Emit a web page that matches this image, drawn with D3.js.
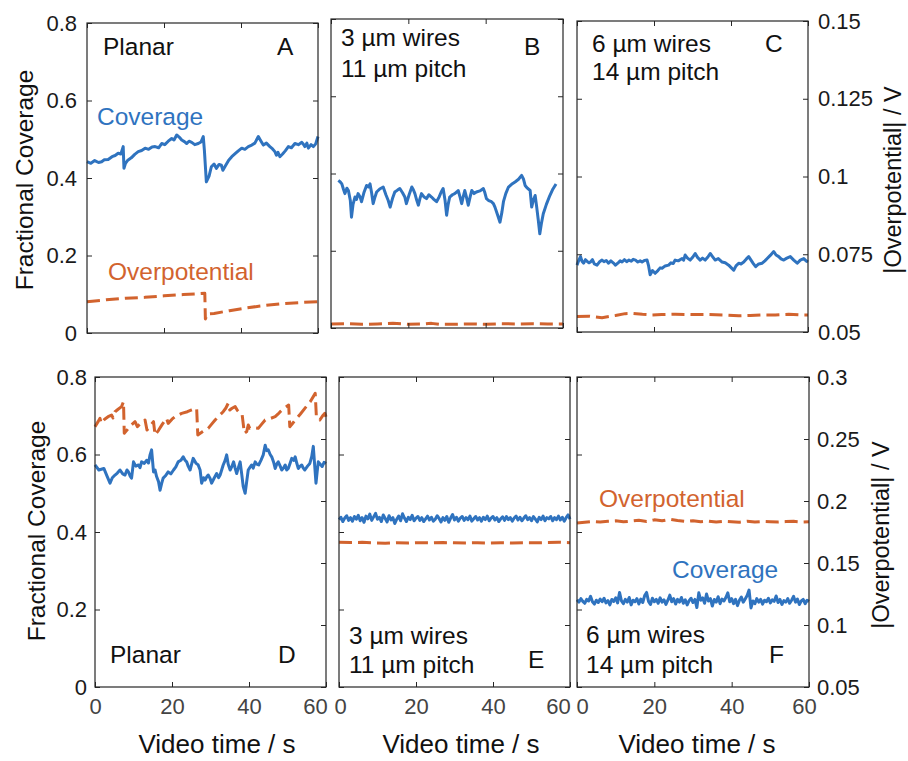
<!DOCTYPE html>
<html><head><meta charset="utf-8">
<script src="https://cdn.jsdelivr.net/npm/d3@7"></script>
<style>body{margin:0;background:#fff}svg{display:block}</style>
</head><body><svg id="c" width="908" height="761"></svg>
<script>
// ---------------- data ----------------
const timeTicks = [0, 20, 40, 60];
const coverageTicks = [0, 0.2, 0.4, 0.6, 0.8];
const overTicksTop = [0.05, 0.075, 0.1, 0.125, 0.15];
const overTicksBottom = [0.05, 0.1, 0.15, 0.2, 0.25, 0.3];

const covA = [[0,0.442],[1,0.438],[2,0.445],[3,0.440],[3.8,0.442],[4.5,0.447],[5.5,0.448],[6.5,0.455],[7.3,0.458],[8.1,0.464],[8.8,0.462],[9.4,0.481],[9.6,0.425],[10,0.438],[10.6,0.446],[11.5,0.452],[12.4,0.461],[13.3,0.468],[14.2,0.471],[15.1,0.477],[16,0.474],[16.9,0.480],[17.7,0.481],[18.6,0.478],[19.4,0.489],[20.2,0.486],[21.1,0.495],[22,0.502],[22.6,0.498],[23.3,0.511],[24,0.505],[24.6,0.498],[25.3,0.494],[25.9,0.489],[26.5,0.495],[27.2,0.492],[28,0.486],[28.9,0.489],[29.6,0.493],[30.2,0.507],[30.5,0.470],[31,0.390],[31.7,0.405],[32.3,0.429],[33,0.436],[33.6,0.425],[34.3,0.435],[34.9,0.433],[35.3,0.420],[36,0.432],[36.8,0.446],[37.6,0.455],[38.4,0.462],[39.3,0.470],[40.2,0.477],[41,0.474],[41.9,0.481],[42.8,0.485],[43.6,0.490],[44.5,0.507],[45.2,0.495],[45.8,0.485],[46.6,0.490],[47.5,0.481],[48.2,0.475],[48.8,0.468],[49.2,0.459],[49.6,0.466],[50.1,0.455],[50.8,0.462],[51.5,0.470],[52.3,0.481],[53.1,0.478],[54,0.489],[54.9,0.486],[55.8,0.492],[56.2,0.487],[56.6,0.481],[57.1,0.490],[57.5,0.477],[58.2,0.486],[58.8,0.481],[59.4,0.488],[60,0.507]];
const ovA = [[0,0.0601],[5,0.0607],[10,0.0612],[15,0.0615],[20,0.0620],[25,0.0624],[30.6,0.0628],[30.75,0.0545],[31.3,0.0562],[33,0.0563],[37,0.0572],[41,0.0580],[45,0.0587],[50,0.0594],[55,0.0598],[60,0.0601]];

const covB = [[1.9,0.382],[2.4,0.378],[2.8,0.373],[3.2,0.360],[3.6,0.348],[4.1,0.362],[4.5,0.356],[5.0,0.330],[5.3,0.287],[5.7,0.320],[6.2,0.339],[6.6,0.333],[7.0,0.348],[7.5,0.340],[7.9,0.327],[8.5,0.350],[9.2,0.369],[9.7,0.365],[10.1,0.373],[10.5,0.350],[10.9,0.322],[11.4,0.340],[11.8,0.352],[12.6,0.360],[13.5,0.365],[14.2,0.345],[14.8,0.330],[15.3,0.313],[15.9,0.335],[16.5,0.352],[17.2,0.357],[17.8,0.361],[18.5,0.350],[19.1,0.339],[19.5,0.322],[20.2,0.345],[20.9,0.365],[21.3,0.358],[21.7,0.348],[22.2,0.330],[22.6,0.318],[23.0,0.335],[23.4,0.348],[24.0,0.340],[24.7,0.335],[25.3,0.345],[26.0,0.339],[26.6,0.333],[27.3,0.327],[28.0,0.340],[28.5,0.352],[29.0,0.361],[29.5,0.330],[29.9,0.292],[30.3,0.320],[30.7,0.339],[31.4,0.345],[32.0,0.348],[32.5,0.352],[32.9,0.356],[33.4,0.338],[33.8,0.322],[34.2,0.340],[34.6,0.356],[35.0,0.340],[35.5,0.318],[36.0,0.340],[36.4,0.356],[37.0,0.348],[37.6,0.352],[38.5,0.355],[39.4,0.361],[39.8,0.350],[40.2,0.335],[40.8,0.330],[41.5,0.327],[42.0,0.322],[42.4,0.313],[43.0,0.295],[43.7,0.274],[44.2,0.300],[44.6,0.327],[45.2,0.348],[45.9,0.365],[46.7,0.372],[47.6,0.378],[48.5,0.385],[49.3,0.395],[49.8,0.385],[50.2,0.369],[50.8,0.362],[51.5,0.356],[51.9,0.313],[52.3,0.330],[52.8,0.343],[53.2,0.313],[53.6,0.280],[54.0,0.244],[54.4,0.270],[54.9,0.296],[55.7,0.320],[56.6,0.343],[57.4,0.360],[58.2,0.373]];
const ovB = [[0,0.0513],[4,0.0514],[8,0.0512],[12,0.0513],[16,0.0515],[20,0.0512],[24,0.0513],[26,0.0515],[28,0.0512],[32,0.0512],[36,0.0513],[40,0.0512],[44,0.0514],[48,0.0513],[52,0.0514],[56,0.0513],[60,0.0513]];

const covC = [[0,0.172],[0.5,0.185],[0.9,0.194],[1.3,0.182],[1.7,0.177],[2.2,0.186],[2.7,0.181],[3.1,0.178],[3.5,0.180],[4.0,0.186],[4.5,0.175],[5.2,0.172],[5.8,0.180],[6.5,0.185],[7.0,0.181],[7.6,0.184],[8.2,0.177],[8.8,0.183],[9.4,0.178],[10.0,0.172],[10.6,0.177],[11.2,0.183],[11.7,0.180],[12.3,0.186],[12.9,0.181],[13.5,0.185],[14.1,0.182],[14.6,0.187],[15.2,0.185],[15.8,0.180],[16.4,0.183],[16.9,0.180],[17.5,0.184],[18.2,0.185],[18.6,0.170],[19.0,0.147],[19.6,0.158],[20.3,0.151],[21.0,0.158],[21.6,0.165],[22.1,0.164],[22.9,0.170],[23.8,0.172],[24.4,0.178],[25.0,0.176],[25.5,0.185],[26.3,0.183],[27.3,0.189],[27.7,0.185],[28.1,0.198],[28.7,0.190],[29.4,0.185],[30.1,0.193],[30.7,0.202],[31.3,0.192],[32.0,0.185],[32.6,0.190],[33.3,0.185],[34.0,0.193],[34.6,0.202],[35.2,0.194],[35.9,0.185],[36.7,0.189],[37.7,0.180],[38.5,0.178],[39.4,0.172],[40.1,0.165],[40.7,0.159],[41.3,0.170],[42.0,0.177],[42.6,0.175],[43.3,0.180],[44.0,0.188],[44.6,0.194],[45.2,0.185],[45.8,0.176],[46.4,0.168],[47.2,0.175],[48.1,0.177],[48.8,0.183],[49.4,0.189],[50.2,0.197],[51.1,0.207],[51.7,0.198],[52.4,0.194],[53.0,0.188],[53.7,0.185],[54.5,0.190],[55.4,0.194],[56.3,0.185],[57.2,0.177],[58.0,0.185],[58.9,0.189],[59.5,0.183],[60,0.180]];
const ovC = [[0,0.0550],[3,0.0551],[6.5,0.0546],[10,0.0553],[12.5,0.0559],[14.3,0.0560],[17,0.0557],[19.5,0.0555],[22,0.0556],[25.5,0.0557],[30,0.0556],[34,0.0556],[38,0.0555],[42,0.0552],[45,0.0553],[48,0.0555],[51.5,0.0555],[55,0.0557],[58,0.0555],[60,0.0555]];

const covD = [[0,0.573],[1.0,0.560],[2.3,0.564],[3.1,0.545],[3.9,0.526],[4.5,0.540],[5.2,0.547],[5.8,0.552],[6.5,0.560],[7.2,0.550],[7.8,0.547],[8.3,0.560],[8.7,0.555],[9.1,0.545],[9.5,0.539],[10.0,0.581],[10.6,0.570],[11.3,0.573],[11.7,0.566],[12.1,0.581],[12.8,0.577],[13.4,0.585],[13.9,0.578],[14.3,0.599],[14.7,0.612],[15.2,0.555],[15.6,0.560],[16.0,0.543],[16.5,0.530],[16.9,0.508],[17.3,0.525],[17.7,0.539],[18.3,0.545],[19.0,0.555],[19.7,0.550],[20.4,0.560],[21.0,0.568],[21.6,0.581],[22.3,0.585],[22.9,0.594],[23.4,0.585],[23.8,0.581],[24.2,0.570],[24.7,0.560],[25.1,0.575],[25.5,0.590],[26.2,0.578],[26.8,0.573],[27.3,0.560],[27.7,0.526],[28.2,0.540],[28.6,0.534],[29.0,0.542],[29.4,0.547],[29.9,0.538],[30.3,0.526],[31.0,0.540],[31.6,0.551],[32.1,0.540],[32.5,0.547],[32.9,0.560],[33.3,0.573],[33.8,0.585],[34.2,0.599],[34.6,0.575],[35.1,0.560],[35.6,0.570],[36.0,0.581],[36.4,0.565],[36.8,0.551],[37.3,0.568],[37.7,0.581],[38.1,0.550],[38.5,0.517],[39.0,0.500],[39.4,0.530],[39.8,0.560],[40.2,0.566],[40.7,0.573],[41.1,0.565],[41.6,0.581],[42.0,0.575],[42.5,0.573],[43.1,0.585],[43.7,0.599],[44.2,0.624],[44.6,0.610],[45.0,0.612],[45.5,0.600],[45.9,0.594],[46.4,0.580],[46.8,0.564],[47.2,0.575],[47.6,0.581],[48.1,0.570],[48.5,0.560],[49.0,0.566],[49.4,0.573],[49.8,0.560],[50.2,0.564],[50.7,0.578],[51.1,0.590],[51.6,0.585],[52.0,0.594],[52.4,0.578],[52.8,0.564],[53.3,0.570],[53.7,0.573],[54.1,0.565],[54.5,0.560],[55.2,0.570],[55.8,0.577],[56.3,0.595],[56.7,0.621],[57.0,0.580],[57.4,0.526],[57.7,0.555],[58.0,0.581],[58.5,0.575],[59.0,0.569],[59.5,0.580],[60,0.577]];
const ovD = [[0,0.2599],[0.8,0.2640],[1.3,0.2667],[1.6,0.2626],[2.5,0.2660],[3.4,0.2680],[4.3,0.2693],[4.7,0.2670],[5.2,0.2720],[6.0,0.2740],[6.9,0.2761],[7.4,0.2801],[7.6,0.2546],[8.7,0.2586],[9.5,0.2615],[10.4,0.2640],[11.0,0.2600],[12.0,0.2630],[13.0,0.2653],[13.5,0.2572],[14.2,0.2600],[15.2,0.2640],[15.6,0.2532],[16.5,0.2570],[17.5,0.2620],[18.6,0.2667],[19.0,0.2626],[20.0,0.2660],[20.8,0.2680],[22.5,0.2707],[24.0,0.2720],[25.1,0.2734],[26.4,0.2747],[26.7,0.2532],[28.0,0.2560],[29.4,0.2586],[30.3,0.2620],[31.2,0.2653],[32.3,0.2690],[33.3,0.2720],[34.0,0.2750],[34.6,0.2788],[35.0,0.2734],[35.6,0.2748],[36.4,0.2761],[37.0,0.2730],[37.7,0.2707],[38.2,0.2700],[38.8,0.2546],[39.4,0.2560],[39.8,0.2613],[40.2,0.2586],[41.3,0.2590],[42.4,0.2586],[43.3,0.2620],[44.2,0.2653],[45.5,0.2665],[46.8,0.2680],[47.5,0.2700],[48.1,0.2720],[49.2,0.2750],[50.3,0.2774],[50.6,0.2599],[51.3,0.2625],[52.0,0.2653],[53.3,0.2700],[54.5,0.2747],[55.9,0.2800],[57.2,0.2868],[57.5,0.2680],[58.4,0.2653],[59.2,0.2690],[59.7,0.2707],[60,0.2680]];

// panels E and F: coverage sampled every 0.5 s
const sampleTimes = d3.range(121).map(i => i * 0.5);
const covEValues = [0.432,0.438,0.427,0.436,0.442,0.430,0.437,0.428,0.440,0.433,
0.443,0.429,0.437,0.425,0.441,0.434,0.446,0.430,0.439,0.448,
0.433,0.438,0.427,0.444,0.435,0.426,0.442,0.431,0.437,0.422,
0.433,0.441,0.429,0.447,0.436,0.427,0.438,0.432,0.443,0.429,
0.436,0.440,0.430,0.437,0.427,0.434,0.441,0.431,0.438,0.428,
0.433,0.442,0.435,0.426,0.437,0.430,0.440,0.425,0.436,0.445,
0.431,0.438,0.428,0.436,0.440,0.430,0.437,0.432,0.441,0.428,
0.434,0.440,0.431,0.437,0.428,0.438,0.432,0.441,0.429,0.436,
0.440,0.431,0.437,0.427,0.434,0.439,0.430,0.440,0.432,0.437,
0.428,0.436,0.441,0.431,0.438,0.429,0.436,0.442,0.432,0.437,
0.429,0.440,0.433,0.426,0.438,0.432,0.441,0.429,0.437,0.434,
0.440,0.429,0.437,0.432,0.441,0.431,0.438,0.428,0.437,0.444,
0.433];
const ovE = [[0,0.1668],[3,0.1665],[6,0.1667],[9,0.1662],[12,0.1660],[15,0.1663],[18,0.1661],[21,0.1664],[24,0.1662],[27,0.1665],[30,0.1663],[33,0.1662],[36,0.1664],[39,0.1661],[42,0.1663],[45,0.1662],[48,0.1664],[51,0.1663],[54,0.1665],[57,0.1667],[60,0.1664]];

const covFValues = [0.225,0.219,0.228,0.221,0.216,0.226,0.222,0.234,0.220,0.214,
0.224,0.218,0.227,0.220,0.229,0.217,0.223,0.212,0.226,0.221,
0.230,0.217,0.244,0.222,0.215,0.226,0.219,0.231,0.212,0.224,
0.220,0.228,0.214,0.227,0.218,0.236,0.244,0.221,0.213,0.229,
0.220,0.226,0.216,0.230,0.219,0.225,0.213,0.224,0.237,0.220,
0.228,0.214,0.226,0.219,0.231,0.216,0.225,0.212,0.223,0.229,
0.218,0.226,0.205,0.243,0.224,0.230,0.216,0.240,0.222,0.228,
0.209,0.226,0.219,0.233,0.215,0.227,0.222,0.231,0.243,0.220,
0.228,0.215,0.226,0.210,0.224,0.232,0.219,0.227,0.236,0.250,
0.204,0.222,0.215,0.228,0.219,0.226,0.214,0.224,0.220,0.229,
0.217,0.225,0.221,0.235,0.218,0.226,0.213,0.223,0.219,0.228,
0.216,0.224,0.234,0.219,0.227,0.213,0.222,0.226,0.215,0.224,
0.221];
const ovF = [[0,0.1822],[2,0.1828],[4,0.1834],[6,0.1831],[8,0.1836],[10,0.1840],[12,0.1832],[14,0.1838],[16,0.1845],[18,0.1835],[20,0.1848],[22,0.1840],[24,0.1852],[26,0.1842],[28,0.1835],[30,0.1841],[32,0.1832],[34,0.1838],[36,0.1830],[38,0.1836],[40,0.1833],[42,0.1829],[44,0.1837],[46,0.1831],[48,0.1835],[50,0.1833],[52,0.1830],[54,0.1834],[56,0.1836],[58,0.1831],[60,0.1833]];

const covE = sampleTimes.map((t, i) => [t, covEValues[i]]);
const covF = sampleTimes.map((t, i) => [t, covFValues[i]]);

// ---------------- layout ----------------
const BLUE = "#2f73bf", ORANGE = "#d2632e", AX = "#262626";
const FONT = "'Liberation Sans', Arial, Helvetica, sans-serif";

const panels = [
  {box:[87,318,23,333], over:[0.05,0.15], oTicks:overTicksTop, cov:covA, ov:ovA, leftLab:10, rightLab:null, xLab:false},
  {box:[331,563,19,328], over:[0.05,0.15], oTicks:overTicksTop, cov:covB, ov:ovB, leftLab:null, rightLab:null, xLab:false},
  {box:[577,808,21,332], over:[0.05,0.15], oTicks:overTicksTop, cov:covC, ov:ovC, leftLab:null, rightLab:10, xLab:false},
  {box:[95,326,377,687], over:[0.05,0.3], oTicks:overTicksBottom, cov:covD, ov:ovD, leftLab:8, rightLab:null, xLab:true, shift0:0, shift60:-11},
  {box:[339,570,377,687], over:[0.05,0.3], oTicks:overTicksBottom, cov:covE, ov:ovE, leftLab:null, rightLab:null, xLab:true, shift0:1, shift60:-12},
  {box:[577,809,377,687], over:[0.05,0.3], oTicks:overTicksBottom, cov:covF, ov:ovF, leftLab:null, rightLab:8, xLab:true, shift0:5, shift60:-5}
];

const svg = d3.select("#c");
svg.append("rect").attr("width",908).attr("height",761).attr("fill","#fff");

function fmt(d){ return String(d); }

panels.forEach(p => {
  const [x0,x1,y0,y1] = p.box;
  const x = d3.scaleLinear().domain([0,60]).range([x0,x1]);
  const yL = d3.scaleLinear().domain([0,0.8]).range([y1,y0]);
  const yR = d3.scaleLinear().domain(p.over).range([y1,y0]);
  const g = svg.append("g");

  const lc = d3.line().x(d => x(d[0])).y(d => yL(d[1]));
  const lo = d3.line().x(d => x(d[0])).y(d => yR(d[1]));
  g.append("path").datum(p.ov).attr("d", lo).attr("fill","none")
    .attr("stroke",ORANGE).attr("stroke-width",3).attr("stroke-dasharray","13,6")
    .attr("stroke-linejoin","round");
  g.append("path").datum(p.cov).attr("d", lc).attr("fill","none")
    .attr("stroke",BLUE).attr("stroke-width",3).attr("stroke-linejoin","round");

  const axL = d3.axisLeft(yL).tickValues(coverageTicks).tickSize(-5)
    .tickPadding(p.leftLab || 0).tickFormat(p.leftLab ? fmt : () => "");
  const axR = d3.axisRight(yR).tickValues(p.oTicks).tickSize(-5)
    .tickPadding(p.rightLab || 0).tickFormat(p.rightLab ? fmt : () => "");
  const axB = d3.axisBottom(x).tickValues(timeTicks).tickSize(-5)
    .tickPadding(11).tickFormat(p.xLab ? fmt : () => "");
  const axT = d3.axisTop(x).tickValues(timeTicks).tickSize(-5).tickFormat(() => "");

  [[axL,`translate(${x0},0)`],[axR,`translate(${x1},0)`],
   [axB,`translate(0,${y1})`],[axT,`translate(0,${y0})`]].forEach(([ax,tr],k) => {
    const a = g.append("g").attr("transform",tr).call(ax);
    a.select(".domain").remove();
    a.selectAll("line").attr("stroke",AX).attr("stroke-width",1);
    a.selectAll("text").attr("font-family",FONT).attr("font-size",22)
      .attr("fill", k === 2 ? "#444" : "#1a1a1a");
    if (k === 2 && p.xLab) {
      a.selectAll("text").attr("dx", d => d === 60 ? p.shift60 : (d === 0 ? p.shift0 : 0));
    }
  });
  g.append("rect").attr("x",x0).attr("y",y0).attr("width",x1-x0).attr("height",y1-y0)
    .attr("fill","none").attr("stroke",AX).attr("stroke-width",1.2);
});

function txt(s, x, y, opts = {}) {
  const t = svg.append("text").attr("x",x).attr("y",y).text(s)
    .attr("font-family",FONT).attr("font-size",opts.size || 24.5)
    .attr("fill",opts.fill || "#111").attr("text-anchor",opts.anchor || "start");
  if (opts.rot) t.attr("transform",`rotate(-90,${x},${y})`).attr("dy","0.35em");
  return t;
}
txt("Planar",103,55); txt("A",277,55);
txt("Coverage",97,125,{fill:BLUE}); txt("Overpotential",108,280,{fill:ORANGE});
txt("3 µm wires",341,46); txt("11 µm pitch",341,77); txt("B",524,55);
txt("6 µm wires",592,52); txt("14 µm pitch",592,80); txt("C",765,52);
txt("Planar",110,663); txt("D",278,663);
txt("3 µm wires",349,644); txt("11 µm pitch",349,673); txt("E",528,668);
txt("6 µm wires",586,643); txt("14 µm pitch",586,673); txt("F",769,663);
txt("Overpotential",599,507,{fill:ORANGE}); txt("Coverage",672,578,{fill:BLUE});

txt("Fractional Coverage",24,180,{rot:true,anchor:"middle",size:24.5});
txt("Fractional Coverage",36,531,{rot:true,anchor:"middle",size:24.5});
txt("|Overpotential| / V",893,180,{rot:true,anchor:"middle",size:23.5});
txt("|Overpotential| / V",881,535,{rot:true,anchor:"middle",size:23.5});
txt("Video time / s",217,753,{anchor:"middle",size:26});
txt("Video time / s",461,753,{anchor:"middle",size:26});
txt("Video time / s",697,753,{anchor:"middle",size:26});
</script></body></html>
